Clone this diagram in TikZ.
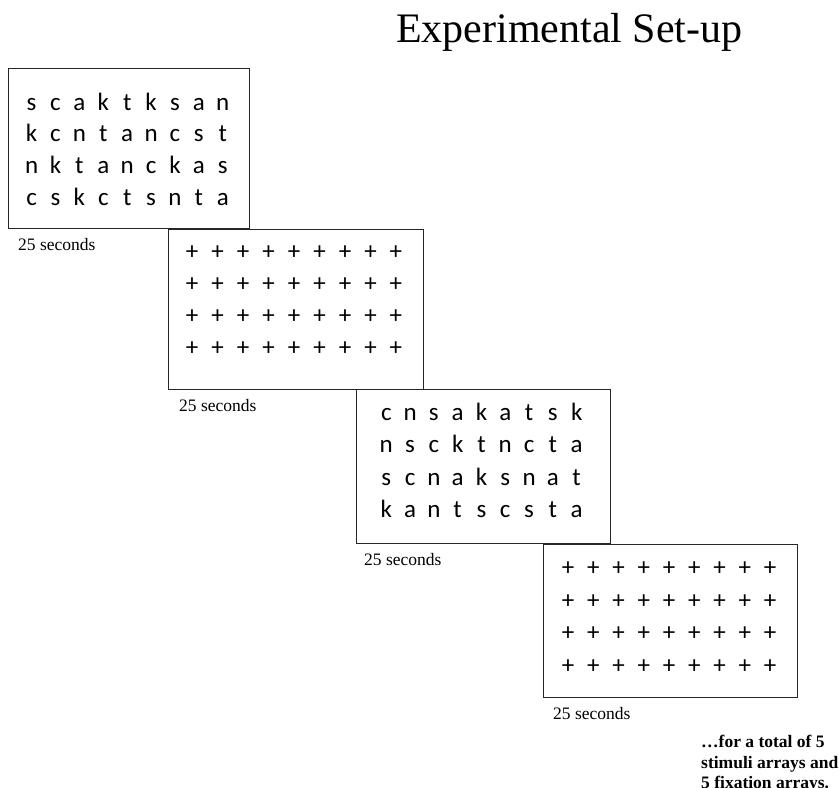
\documentclass[tikz,border=0pt]{standalone}
\usepackage{fontspec}
\setmainfont{Liberation Serif}
\newfontfamily\gridfont{Carlito}
\newcommand\cellrow[2]{\foreach \cc in {#2}{\makebox[#1]{\cc}}}
\begin{document}
\begin{tikzpicture}[x=1pt,y=-1pt,
  panel/.style={draw=black!85, line width=0.9pt, fill=white, inner sep=0pt, outer sep=0pt, anchor=north west},
  letters/.style={font=\gridfont\fontsize{25}{30}\selectfont, inner sep=0pt, anchor=base},
  crosses/.style={font=\gridfont\fontsize{25}{30}\selectfont, inner sep=0pt, anchor=center},
  secs/.style={font=\fontsize{17.5}{20}\selectfont, inner sep=0pt, anchor=base west},
  note/.style={font=\bfseries\fontsize{17.5}{20.5}\selectfont, inner sep=0pt, align=left, anchor=north west},
  title/.style={font=\fontsize{42}{48}\selectfont, inner sep=0pt, anchor=base west}]
\useasboundingbox (0,0) rectangle (839,788);

\node[title] (title) at (396,42) {Experimental Set-up};

% panels
\node[panel, minimum width=241pt, minimum height=160pt] (b1) at (8,68) {};
\node[panel, minimum width=255pt, minimum height=160pt] (b2) at (168,229) {};
\node[panel, minimum width=254pt, minimum height=154pt] (b3) at (356,389) {};
\node[panel, minimum width=254pt, minimum height=153pt] (b4) at (543,544) {};

% stimulus array 1
\node[letters] (s1a) at (127.2,110)   {\cellrow{23.9pt}{s,c,a,k,t,k,s,a,n}};
\node[letters] (s1b) at (127.2,141.8) {\cellrow{23.9pt}{k,c,n,t,a,n,c,s,t}};
\node[letters] (s1c) at (127.2,173.5) {\cellrow{23.9pt}{n,k,t,a,n,c,k,a,s}};
\node[letters] (s1d) at (127.2,205.3) {\cellrow{23.9pt}{c,s,k,c,t,s,n,t,a}};

% fixation array 1
\node[crosses] (f1a) at (294,253) {\cellrow{25.5pt}{+,+,+,+,+,+,+,+,+}};
\node[crosses] (f1b) at (294,285) {\cellrow{25.5pt}{+,+,+,+,+,+,+,+,+}};
\node[crosses] (f1c) at (294,317) {\cellrow{25.5pt}{+,+,+,+,+,+,+,+,+}};
\node[crosses] (f1d) at (294,349) {\cellrow{25.5pt}{+,+,+,+,+,+,+,+,+}};

% stimulus array 2
\node[letters] (s2a) at (481.5,420)   {\cellrow{23.8pt}{c,n,s,a,k,a,t,s,k}};
\node[letters] (s2b) at (481.5,452.5) {\cellrow{23.8pt}{n,s,c,k,t,n,c,t,a}};
\node[letters] (s2c) at (481.5,485)   {\cellrow{23.8pt}{s,c,n,a,k,s,n,a,t}};
\node[letters] (s2d) at (481.5,517.5) {\cellrow{23.8pt}{k,a,n,t,s,c,s,t,a}};

% fixation array 2
\node[crosses] (f2a) at (669,568.5) {\cellrow{25.25pt}{+,+,+,+,+,+,+,+,+}};
\node[crosses] (f2b) at (669,601.5) {\cellrow{25.25pt}{+,+,+,+,+,+,+,+,+}};
\node[crosses] (f2c) at (669,634)   {\cellrow{25.25pt}{+,+,+,+,+,+,+,+,+}};
\node[crosses] (f2d) at (669,667)   {\cellrow{25.25pt}{+,+,+,+,+,+,+,+,+}};

% durations
\node[secs] (l1) at ([shift={(10,22.5)}]b1.south west) {25 seconds};
\node[secs] (l2) at ([shift={(11,22.5)}]b2.south west) {25 seconds};
\node[secs] (l3) at ([shift={(8,22.5)}]b3.south west) {25 seconds};
\node[secs] (l4) at ([shift={(10,22.5)}]b4.south west) {25 seconds};

\node[note] (total) at (701,735) {\ldots for a total of 5\\stimuli arrays and\\5 fixation arrays.};
\end{tikzpicture}
\end{document}
